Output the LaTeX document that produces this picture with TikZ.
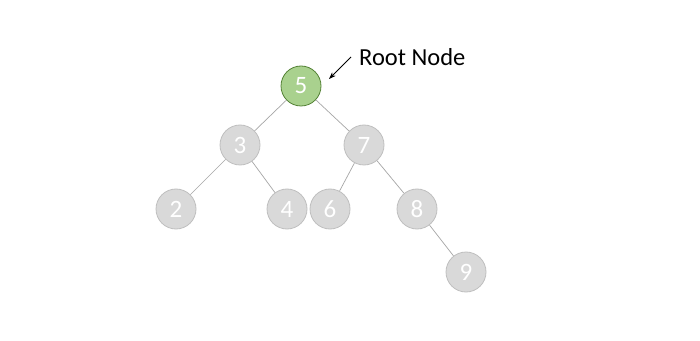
\documentclass[tikz,border=0pt]{standalone}
\usepackage{fontspec}
\setmainfont{Carlito}
\usetikzlibrary{arrows.meta}

\definecolor{knotgray}{HTML}{D9D9D9}
\definecolor{knotline}{HTML}{BFBFBF}
\definecolor{rootfill}{HTML}{A9D18E}
\definecolor{rootline}{HTML}{548235}
\definecolor{edgegray}{HTML}{A6A6A6}

\tikzset{
  knot/.style={circle, minimum size=40pt, inner sep=0pt, fill=knotgray,
    draw=knotline, line width=0.8pt, text=white, font=\fontsize{25}{25}\selectfont},
  rootknot/.style={knot, fill=rootfill, draw=rootline},
  link/.style={edgegray, line width=0.7pt}
}

\begin{document}
\begin{tikzpicture}[x=1pt, y=1pt]
\useasboundingbox[fill=white] (0,0) rectangle (700,340);

% Корень
\node[rootknot] (n5) at (301,254) {5};

% Остальные вершины
\node[knot] (n3) at (240,195) {3};
\node[knot] (n7) at (364,195) {7};
\node[knot] (n2) at (176,131) {2};
\node[knot] (n4) at (287,131) {4};
\node[knot] (n6) at (330,131) {6};
\node[knot] (n8) at (417,131) {8};
\node[knot] (n9) at (466,68) {9};

% Рёбра
\foreach \a/\b in {n5/n3, n5/n7, n3/n2, n3/n4, n7/n6, n7/n8, n8/n9}
    \draw[link] (\a) -- (\b);

% Подпись
\node[anchor=west, inner sep=0pt, font=\fontsize{24.5}{24.5}\selectfont] (lbl) at (359,283) {Root Node};
\coordinate (tip) at (329,261);
\draw[-{Stealth[length=7pt,width=5pt]}, line width=0.8pt] ([xshift=-8pt]lbl.west) -- (tip);
\end{tikzpicture}
\end{document}
